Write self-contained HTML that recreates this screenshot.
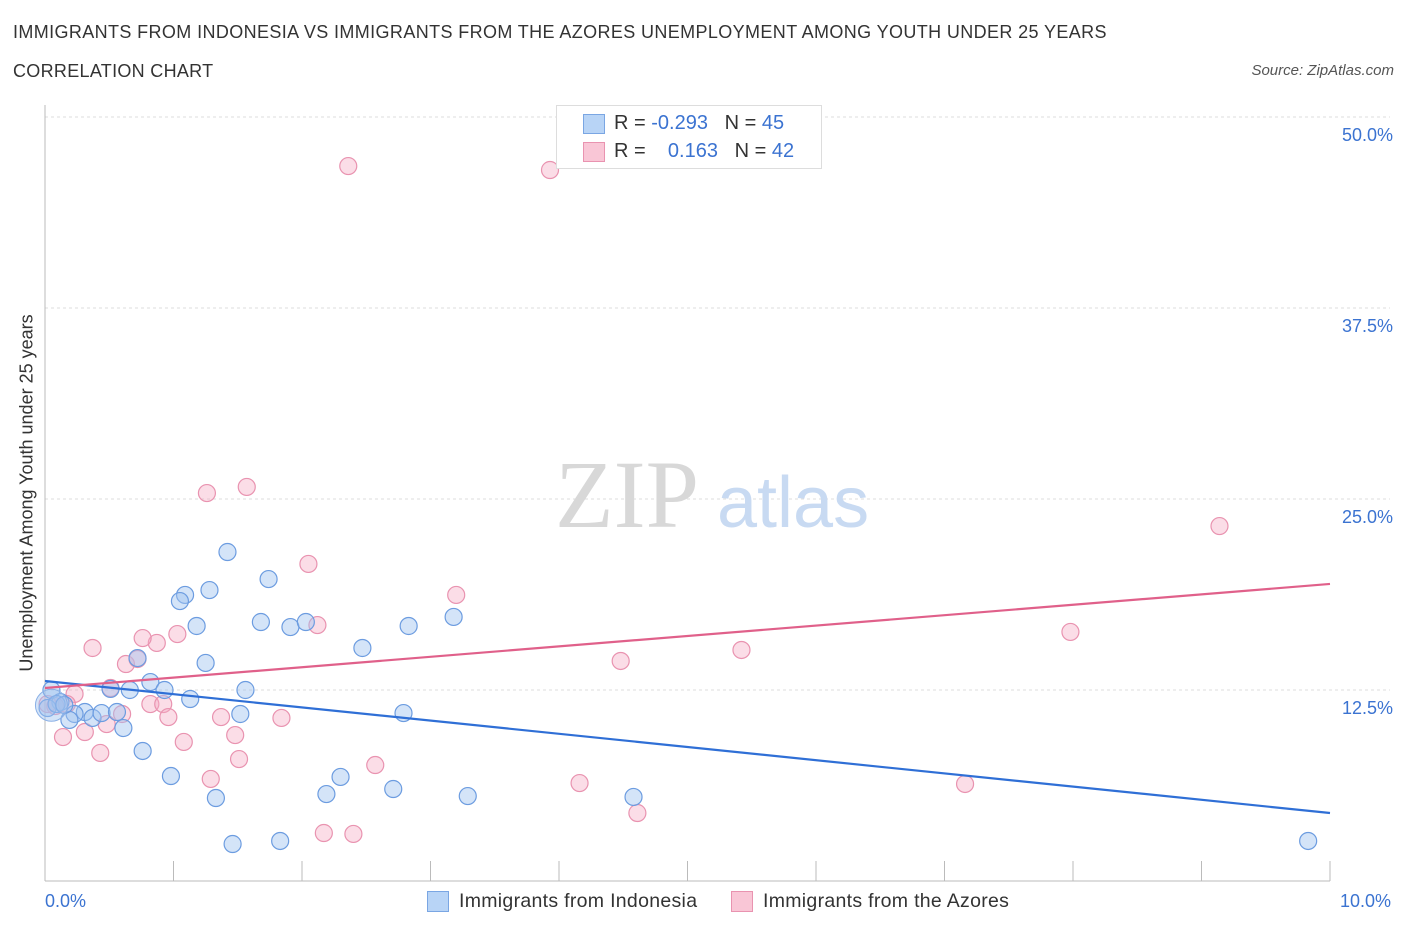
<!DOCTYPE html>
<html><head><meta charset="utf-8"><style>
body{margin:0;background:#fff;font-family:"Liberation Sans",sans-serif;}
#wrap{position:relative;width:1406px;height:930px;overflow:hidden;}
.t{position:absolute;white-space:nowrap;}
</style></head><body>
<div id="wrap">
<div class="t" style="left:13px;top:22px;font-size:18px;color:#333;letter-spacing:0.38px;">IMMIGRANTS FROM INDONESIA VS IMMIGRANTS FROM THE AZORES UNEMPLOYMENT AMONG YOUTH UNDER 25 YEARS</div>
<div class="t" style="left:13px;top:61px;font-size:18px;color:#333;letter-spacing:0.3px;">CORRELATION CHART</div>
<div class="t" style="right:12px;top:62px;font-size:15px;color:#555;font-style:italic;">Source: ZipAtlas.com</div>
<svg id="plot" width="1406" height="930" style="position:absolute;left:0;top:0"></svg>
</div>
<script>
const xTicks=[0,1,2,3,4,5,6,7,8,9,10];
const yTicks=[12.5,25,37.5,50];
const yTickLabels=["12.5%","25.0%","37.5%","50.0%"];
const indoX=[1.42,1.74,1.09,1.05,1.28,1.18,1.68,1.91,2.03,2.83,3.18,2.47,1.25,0.72,0.82,0.93,1.56,0.51,0.66,1.13,1.52,2.79,0.05,0.12,0.31,0.23,0.37,0.44,0.56,0.61,0.19,0.76,0.98,1.33,2.19,2.30,2.71,3.29,4.58,1.46,1.83,9.83,0.02,0.09,0.15];
const indoY=[21.53,19.76,18.72,18.32,19.04,16.69,16.95,16.62,16.95,16.69,17.28,15.25,14.27,14.59,13.02,12.5,12.5,12.57,12.5,11.91,10.93,10.99,12.5,11.71,11.06,10.93,10.67,10.99,11.06,10.01,10.54,8.51,6.87,5.43,5.69,6.81,6.02,5.56,5.5,2.42,2.62,2.62,11.32,11.58,11.52];
const azX=[2.36,3.93,1.26,1.57,2.05,3.20,2.12,0.37,0.87,1.03,0.76,0.63,0.72,0.51,0.23,0.17,0.82,0.92,0.96,0.60,0.48,0.31,0.14,0.43,1.08,1.48,1.37,1.84,1.51,2.57,1.29,2.17,2.40,4.16,4.61,4.48,5.42,7.98,9.14,7.16,0.08,0.02];
const azY=[46.79,46.53,25.39,25.79,20.75,18.72,16.75,15.25,15.58,16.16,15.9,14.2,14.53,12.63,12.24,11.58,11.58,11.58,10.73,10.93,10.27,9.75,9.42,8.38,9.1,9.55,10.73,10.67,7.98,7.59,6.68,3.14,3.08,6.41,4.45,14.4,15.12,16.3,23.23,6.35,11.45,11.58];
const indoTrend=[13.09,4.45];
const azTrend=[12.63,19.44];
const NS="http://www.w3.org/2000/svg";
const svg=document.getElementById('plot');
const X=v=>45+v*128.5, Y=v=>881-v*15.28;
function mk(tag,attrs,parent){const e=document.createElementNS(NS,tag);for(const k in attrs)e.setAttribute(k,attrs[k]);(parent||svg).appendChild(e);return e;}
yTicks.forEach((t,i)=>{
 const g=mk('line',{x1:45,x2:1390,y1:Y(t),y2:Y(t),stroke:'#ddd','stroke-dasharray':'3,3'});
 
 
 const tx=mk('text',{x:1393,y:Y(t)+24,'text-anchor':'end','font-size':18,fill:'#3b73d1','font-family':'Liberation Sans, sans-serif'});
 tx.textContent=yTickLabels[i];
 
 
});
const ax=mk('line',{x1:45,x2:1330,y1:881,y2:881,stroke:'#bbb'});


const ay=mk('line',{x1:45,x2:45,y1:105,y2:881,stroke:'#bbb'});


xTicks.forEach(t=>{
 const l=mk('line',{x1:X(t),x2:X(t),y1:861,y2:881,stroke:'#bbb'});
 
 
});
const wm=mk('text',{x:555,y:527,'font-size':96,fill:'#d8d8d8','font-family':'Liberation Serif, serif'});wm.textContent='ZIP';


const wm2=mk('text',{x:717,y:527,'font-size':72,fill:'#c8daf2','font-family':'Liberation Sans, sans-serif'});wm2.textContent='atlas';


function pts(xs,ys,fill,stroke,name){xs.forEach((x,i)=>{
 const c=mk('circle',{cx:X(x),cy:Y(ys[i]),r:8.5,fill:fill,stroke:stroke,'stroke-width':1.2});
 
 
});}
pts(azX,azY,'rgba(245,170,195,0.4)','#e993b0','point-azores');
pts(indoX,indoY,'rgba(160,196,240,0.45)','#6c9ce0','point-indonesia');
const big=mk('circle',{cx:X(0.05),cy:Y(11.5),r:16,fill:'rgba(160,196,240,0.45)',stroke:'#8ab0e6','stroke-width':1});


const tl1=mk('line',{x1:X(0),y1:Y(indoTrend[0]),x2:X(10),y2:Y(indoTrend[1]),stroke:'#2f6fd6','stroke-width':2.2});


const tl2=mk('line',{x1:X(0),y1:Y(azTrend[0]),x2:X(10),y2:Y(azTrend[1]),stroke:'#e0608a','stroke-width':2.2});


</script>
<div class="t" style="left:27px;top:493px;font-size:18px;color:#333;transform:translate(-50%,-50%) rotate(-90deg);transform-origin:center;">Unemployment Among Youth under 25 years</div>
<div class="t" style="left:45px;top:891px;font-size:18px;color:#3b73d1;">0.0%</div>
<div class="t" style="left:1340px;top:891px;font-size:18px;color:#3b73d1;">10.0%</div>
<div style="position:absolute;left:556px;top:105px;width:264px;height:62px;border:1px solid #ddd;background:#fff;font-size:20px;color:#333;">
 <div style="position:absolute;left:26px;top:8px;width:20px;height:18px;background:#b8d4f6;border:1px solid #7aa6e3;"></div>
 <div class="t" style="left:57px;top:6px;">R = <span style="color:#3b73d1">-0.293</span>&nbsp;&nbsp;&nbsp;N = <span style="color:#3b73d1">45</span></div>
 <div style="position:absolute;left:26px;top:36px;width:20px;height:18px;background:#f9c6d6;border:1px solid #e993b0;"></div>
 <div class="t" style="left:57px;top:34px;">R = &nbsp;&nbsp;&nbsp;<span style="color:#3b73d1">0.163</span>&nbsp;&nbsp;&nbsp;N = <span style="color:#3b73d1">42</span></div>
</div>
<div style="position:absolute;left:427px;top:890px;font-size:19.5px;color:#333;">
 <div style="position:absolute;left:0;top:1px;width:20px;height:19px;background:#b8d4f6;border:1px solid #7aa6e3;"></div>
 <div class="t" style="left:32px;top:0;letter-spacing:0.3px;">Immigrants from Indonesia</div>
</div>
<div style="position:absolute;left:731px;top:890px;font-size:19.5px;color:#333;">
 <div style="position:absolute;left:0;top:1px;width:20px;height:19px;background:#f9c6d6;border:1px solid #e993b0;"></div>
 <div class="t" style="left:32px;top:0;letter-spacing:0.3px;">Immigrants from the Azores</div>
</div>
</body></html>
